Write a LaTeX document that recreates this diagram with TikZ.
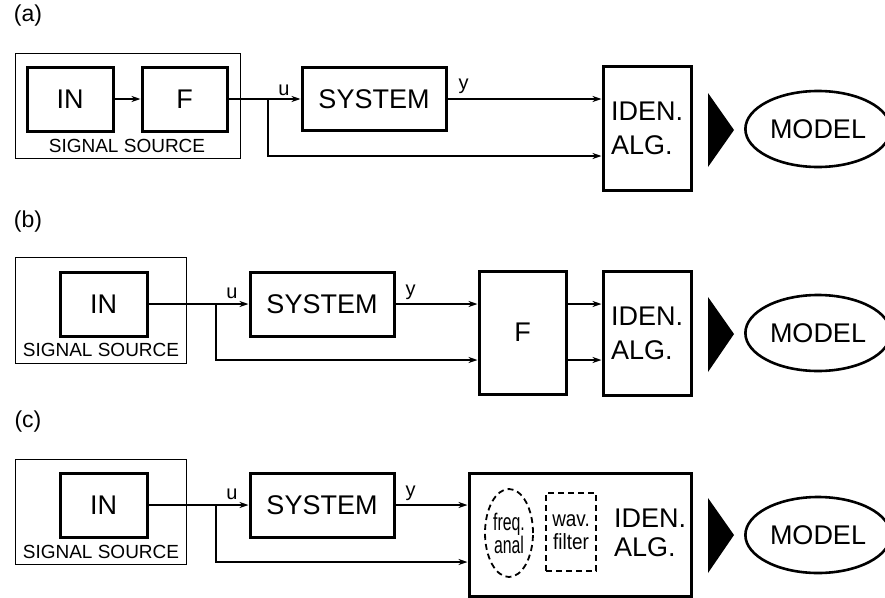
\documentclass[tikz,border=0pt]{standalone}
\usepackage{fontspec}
\setmainfont{Liberation Sans}
\newfontfamily\condfont[FakeStretch=0.66]{Liberation Sans}
\newfontfamily\semifont[FakeStretch=0.86]{Liberation Sans}
\usetikzlibrary{arrows.meta,shapes.geometric}
\tikzset{
  blk/.style={draw,line width=3pt,inner sep=0pt,font=\fontsize{27}{34}\selectfont},
  src/.style={draw,line width=1pt,inner sep=0pt},
  sig/.style={line width=2.2pt,-{Stealth[length=9pt,width=6pt]}},
  lbl/.style={font=\fontsize{20}{22}\selectfont,inner sep=0pt},
  small/.style={font=\fontsize{19}{22}\selectfont},
  tag/.style={font=\fontsize{23}{26}\selectfont},
  model/.style={draw,ellipse,line width=2.6pt,minimum width=132pt,minimum height=76pt,font=\fontsize{27}{30}\selectfont},
  opt/.style={draw,dash pattern=on 6pt off 4pt,line width=1.8pt,inner sep=0pt}
}
\begin{document}
\begin{tikzpicture}[x=1pt,y=-1pt]
\useasboundingbox (0,0) rectangle (885,597);
% (a)
\node[tag] (tagA) at (28,16) {(a)};
\node[src,minimum width=225pt,minimum height=105pt] (srcA) at (127.5,105.5) {};
\node[small] (ssA) at (127,146) {SIGNAL SOURCE};
\node[blk,minimum width=86pt,minimum height=64pt] (inA) at (70,99) {IN};
\node[blk,minimum width=85pt,minimum height=64pt] (fA) at (184.5,99) {F};
\node[blk,minimum width=144pt,minimum height=63pt] (sysA) at (374,99) {SYSTEM};
\node[blk,minimum width=88pt,minimum height=124pt,align=left] (idenA) at (647,128) {IDEN.\\ALG.};
\node[model] (modA) at (818,129) {MODEL};
\fill (708,93) -- (708,167) -- (734,130) -- cycle;
\coordinate (brA) at (268,99);
\coordinate (loA) at (268,156);
\draw[sig] (inA) -- (fA);
\draw[sig] (fA) -- (sysA) node[lbl,pos=1,anchor=base east,xshift=-10pt,yshift=4pt] {u};
\draw[sig] (sysA) -- (sysA -| idenA.west) node[lbl,pos=0,anchor=base west,xshift=10pt,yshift=10pt] {y};
\draw[sig] (brA) -- (loA) -- (loA -| idenA.west);
% (b)
\node[tag] (tagB) at (28,222) {(b)};
\node[src,minimum width=171pt,minimum height=106pt] (srcB) at (100.5,310) {};
\node[small] (ssB) at (101,350) {SIGNAL SOURCE};
\node[blk,minimum width=87pt,minimum height=64pt] (inB) at (103.5,304) {IN};
\node[blk,minimum width=144pt,minimum height=64pt] (sysB) at (322,304) {SYSTEM};
\node[blk,minimum width=87pt,minimum height=123pt] (fB) at (522.5,332.5) {F};
\node[blk,minimum width=88pt,minimum height=124pt,align=left] (idenB) at (647,333) {IDEN.\\ALG.};
\node[model] (modB) at (818,333) {MODEL};
\fill (708,297) -- (708,372) -- (734,334) -- cycle;
\coordinate (brB) at (216,304);
\coordinate (loB) at (216,360);
\draw[sig] (inB) -- (sysB) node[lbl,pos=1,anchor=base east,xshift=-10pt,yshift=6pt] {u};
\draw[sig] (sysB) -- (sysB -| fB.west) node[lbl,pos=0,anchor=base west,xshift=9pt,yshift=9pt] {y};
\draw[sig] (brB) -- (loB) -- (loB -| fB.west);
\draw[sig] (sysB -| fB.east) -- (sysB -| idenB.west);
\draw[sig] (loB -| fB.east) -- (loB -| idenB.west);
% (c)
\node[tag] (tagC) at (28,422) {(c)};
\node[src,minimum width=171pt,minimum height=105pt] (srcC) at (100.5,511.5) {};
\node[small] (ssC) at (101,552) {SIGNAL SOURCE};
\node[blk,minimum width=87pt,minimum height=64pt] (inC) at (103.5,505) {IN};
\node[blk,minimum width=144pt,minimum height=64pt] (sysC) at (322,505) {SYSTEM};
\node[blk,minimum width=222pt,minimum height=123pt] (idenC) at (580,534.5) {};
\node[opt,ellipse,minimum width=48pt,minimum height=88pt,align=center,font=\condfont\fontsize{24}{23}\selectfont] (fqC) at (509,533) {freq.\\anal};
\node[opt,minimum width=50pt,minimum height=78pt,align=center,font=\semifont\fontsize{22}{23}\selectfont] (wvC) at (571,532) {wav.\\filter};
\node[align=left,font=\fontsize{27}{29}\selectfont] (algC) at (650,533) {IDEN.\\ALG.};
\node[model] (modC) at (818,535) {MODEL};
\fill (708,498) -- (708,573) -- (734,535) -- cycle;
\coordinate (brC) at (216,505);
\coordinate (loC) at (216,562);
\draw[sig] (inC) -- (sysC) node[lbl,pos=1,anchor=base east,xshift=-10pt,yshift=6pt] {u};
\draw[sig] (sysC) -- (sysC -| idenC.west) node[lbl,pos=0,anchor=base west,xshift=9pt,yshift=9pt] {y};
\draw[sig] (brC) -- (loC) -- (loC -| idenC.west);
\end{tikzpicture}
\end{document}
